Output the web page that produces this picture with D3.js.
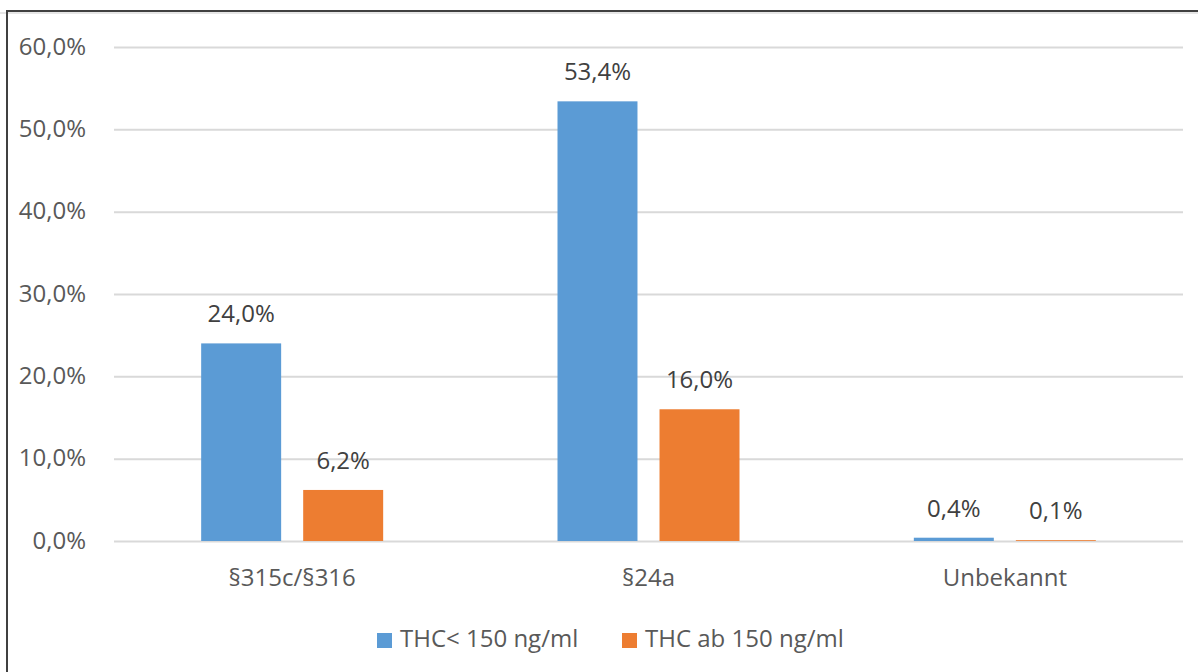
<!DOCTYPE html>
<html><head><meta charset="utf-8">
<script src="https://cdn.jsdelivr.net/npm/d3@7"></script>
<style>
html,body{margin:0;padding:0;background:#fff;}
svg{display:block;}
text{font-family:"Open Sans","Noto Sans",sans-serif;}
</style></head>
<body>
<script>
const categories = ["§315c/§316", "§24a", "Unbekannt"];
const seriesNames = ["THC< 150 ng/ml", "THC ab 150 ng/ml"];
const seriesLow = [24.0, 53.4, 0.4];
const seriesHigh = [6.2, 16.0, 0.1];
const tickValues = [0, 10, 20, 30, 40, 50, 60];
const colors = ["#5B9BD5", "#ED7D31"];

(function () {
const W = 1198, H = 672;
const FS = "24px";
const svg = d3.select("body").append("svg").attr("width", W).attr("height", H);

// frame
svg.append("rect").attr("x", 0).attr("y", 12).attr("width", W).attr("height", 2).attr("fill", "#e6e6e6");
svg.append("line").attr("x1", 7).attr("x2", W).attr("y1", 11).attr("y2", 11).attr("stroke", "#404040").attr("stroke-width", 2);
svg.append("line").attr("x1", 7).attr("x2", 7).attr("y1", 10).attr("y2", H).attr("stroke", "#404040").attr("stroke-width", 2);

const mLeft = 114, mRight = 1183, mTop = 47, mBottom = 541;
const y = d3.scaleLinear().domain([0, 60]).range([mBottom, mTop]);
const x0 = d3.scaleBand().domain(categories).range([mLeft, mRight]);
const x1 = d3.scaleBand().domain([0, 1]).range([0, 182]).paddingInner(0.216);

const fmt = v => d3.format(".1f")(v).replace(".", ",") + "%";

// gridlines + y labels
const yAxis = d3.axisLeft(y).tickValues(tickValues).tickSize(-(mRight - mLeft)).tickFormat(fmt);
const gy = svg.append("g").attr("transform", `translate(${mLeft},0)`).call(yAxis);
gy.select(".domain").remove();
gy.selectAll(".tick line").attr("stroke", "#d9d9d9").attr("stroke-width", 2);
gy.selectAll(".tick text").attr("x", -28).attr("dy", "0.3em").attr("fill", "#595959").style("font-size", FS);

const data = categories.map((c, i) => ({ cat: c, vals: [seriesLow[i], seriesHigh[i]] }));
const groups = svg.append("g").selectAll("g").data(data).join("g")
  .attr("transform", d => `translate(${x0(d.cat) + x0.bandwidth() / 2 - 91},0)`);

groups.selectAll("rect").data(d => d.vals.map((v, k) => ({ v, k }))).join("rect")
  .attr("x", d => x1(d.k)).attr("width", x1.bandwidth())
  .attr("y", d => y(d.v)).attr("height", d => mBottom - y(d.v))
  .attr("fill", d => colors[d.k]);

groups.selectAll("text.lbl").data(d => d.vals.map((v, k) => ({ v, k }))).join("text")
  .attr("class", "lbl")
  .attr("x", d => x1(d.k) + x1.bandwidth() / 2)
  .attr("y", d => y(d.v) - 21)
  .attr("text-anchor", "middle").attr("fill", "#404040").style("font-size", FS)
  .text(d => fmt(d.v));

// x axis labels
const xAxis = d3.axisBottom(x0).tickSize(0).tickPadding(28);
const gx = svg.append("g").attr("transform", `translate(0,${mBottom})`).call(xAxis);
gx.select(".domain").remove();
gx.selectAll(".tick text").attr("fill", "#595959").style("font-size", FS);

// legend
const legX = [377, 622];
const leg = svg.append("g").selectAll("g").data(seriesNames).join("g")
  .attr("transform", (d, i) => `translate(${legX[i]},640)`);
leg.append("rect").attr("x", 0).attr("y", -7).attr("width", 15).attr("height", 15).attr("fill", (d, i) => colors[i]);
leg.append("text").attr("x", 23).attr("y", 7).attr("fill", "#595959").style("font-size", FS).text(d => d);
})();
</script>
</body></html>
